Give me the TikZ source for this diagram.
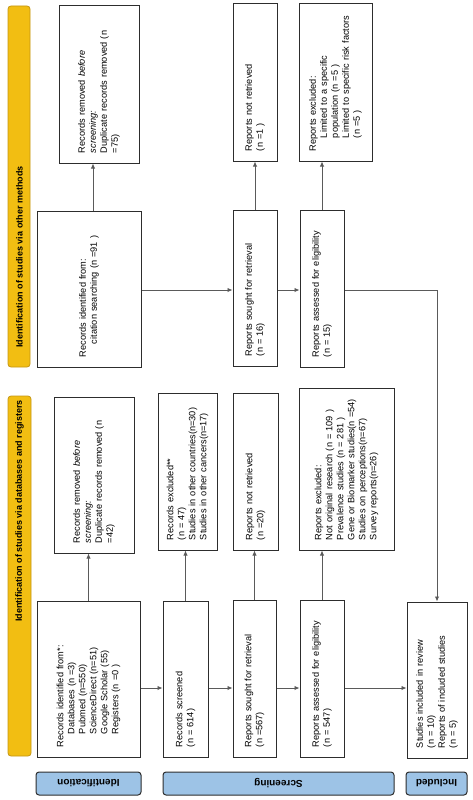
\documentclass[tikz,border=0pt]{standalone}
\usepackage{fontspec}
\setmainfont{Liberation Sans}
\usetikzlibrary{arrows.meta}
\definecolor{ybar}{RGB}{242,190,18}
\definecolor{ybord}{RGB}{196,150,20}
\definecolor{bbar}{RGB}{157,195,230}
\definecolor{bord}{RGB}{45,45,45}
\definecolor{conn}{RGB}{90,90,90}
\newcommand{\ind}{\hspace*{13pt}}
\begin{document}
\begin{tikzpicture}[x=1pt,y=-1pt,
  fbox/.style n args={3}{draw=bord, line width=1pt, rotate=90, align=left,
    inner xsep=10pt, inner ysep=0pt, minimum width=#1, minimum height=#2,
    text width=#3, font=\fontsize{9.2}{11}\selectfont},
  ybox/.style n args={2}{draw=ybord, fill=ybar, line width=0.8pt, rotate=90,
    rounded corners=3pt, minimum width=#1, minimum height=#2, inner sep=0pt},
  ylbl/.style={rotate=90, inner sep=0pt, font=\fontsize{9}{11}\selectfont\bfseries},
  bbox/.style={draw=bord, fill=bbar, line width=1pt, rotate=180,
    rounded corners=3pt, minimum width=#1, minimum height=23pt, inner sep=0pt,
    font=\fontsize{10}{12}\selectfont\bfseries},
  arr/.style={draw=conn, line width=0.9pt, -{Latex[length=5pt,width=4.5pt]}},
]
\useasboundingbox (0,0) rectangle (473,800);

% yellow side bars
\node[ybox={361}{22}] (om_bar) at (19,186.5) {};
\node[ylbl] (om_lbl) at (19.5,257) {Identification of studies via other methods};
\node[ybox={360}{23}] (db_bar) at (19.5,576) {};
\node[ylbl] (db_lbl) at (19.5,511) {Identification of studies via databases and registers};

% other methods
\node[fbox={157}{80}{137}] (om_rem) at (99,84.5)
  {Records removed \textit{before}\\ \textit{screening:}\\ Duplicate records removed (n\\ =75)};
\node[fbox={157}{44}{137}] (om_notret) at (255,82.5)
  {Reports not retrieved\\ (n =1 )};
\node[fbox={157}{73}{137}] (om_excl) at (335.5,82.5)
  {Reports excluded:\\ \ind Limited to a specific\\ \ind population (n =5 )\\ \ind Limited to specific risk factors\\ \ind (n =5 )};
\node[fbox={156}{104}{136}] (om_id) at (89,289)
  {Records identified from:\\ \ind citation searching (n =91 )};
\node[fbox={156}{44}{136}] (om_sought) at (255,288)
  {Reports sought for retrieval\\ (n = 16)};
\node[fbox={157}{44}{137}] (om_assess) at (322,288.5)
  {Reports assessed for eligibility\\ (n = 15)};

% databases and registers
\node[fbox={156}{80}{136}] (db_rem) at (94,475)
  {Records removed \textit{before}\\ \textit{screening:}\\ Duplicate records removed (n\\ =42)};
\node[fbox={157}{59}{137}] (db_exc) at (187.5,471.5)
  {Records excluded**\\ (n = 47)\\ Studies in other countries(n=30)\\ Studies in other cancers(n=17)};
\node[fbox={157}{45}{137}] (db_notret) at (255.5,471.5)
  {Reports not retrieved\\ (n =20)};
\node[fbox={162}{95}{142}] (db_excl) at (346.5,469)
  {Reports excluded:\\ Not original research (n = 109 )\\ Prevalence studies (n = 281 )\\ Gene or Biomarker studies(n =54)\\ Studies on perceptions(n=67)\\ Survey reports(n=26)};
\node[fbox={156}{103}{136}] (db_id) at (88.5,679)
  {Records identified from*:\\ \ind Databases (n =3)\\ \ind Pubmed (n=550)\\ \ind ScienceDirect (n=51)\\ \ind Google Scholar (55)\\ \ind Registers (n =0 )};
\node[fbox={156}{45}{136}] (db_scr) at (185.5,679)
  {Records screened\\ (n = 614)};
\node[fbox={157}{43}{137}] (db_sought) at (254.5,678.5)
  {Reports sought for retrieval\\ (n =567)};
\node[fbox={157}{44}{137}] (db_assess) at (322,678.5)
  {Reports assessed for eligibility\\ (n = 547)};
\node[fbox={156}{60}{136}] (incl) at (437,680)
  {Studies included in review\\ (n = 10)\\ Reports of included studies\\ (n = 5)};

% phase labels
\node[bbox=105] (ph_id) at (88.5,783.5) {Identification};
\node[bbox=231] (ph_scr) at (278.5,783.5) {Screening};
\node[bbox=61] (ph_inc) at (436.5,783.5) {Included};

% connectors
\coordinate (omrow) at (0,290);
\coordinate (dbrow) at (0,688);
\coordinate (omv) at (93,0);
\draw[arr] (om_id.south |- omrow) -- (om_sought.north |- omrow);
\draw[arr] (om_sought.south |- omrow) -- (om_assess.north |- omrow);
\draw[arr] (om_assess.south |- omrow) -- (incl.east |- omrow) -- (incl.east);
\draw[arr] (omv |- om_id.east) -- (omv |- om_rem.west);
\draw[arr] (om_sought.east) -- (om_sought.east |- om_notret.west);
\draw[arr] (om_assess.east) -- (om_assess.east |- om_excl.west);

\draw[arr] (db_id.south |- dbrow) -- (db_scr.north |- dbrow);
\draw[arr] (db_scr.south |- dbrow) -- (db_sought.north |- dbrow);
\draw[arr] (db_sought.south |- dbrow) -- (db_assess.north |- dbrow);
\draw[arr] (db_assess.south |- dbrow) -- (incl.north |- dbrow);
\draw[arr] (db_id.east) -- (db_id.east |- db_rem.west);
\draw[arr] (db_scr.east) -- (db_scr.east |- db_exc.west);
\draw[arr] (db_sought.east) -- (db_sought.east |- db_notret.west);
\draw[arr] (db_assess.east) -- (db_assess.east |- db_excl.west);
\end{tikzpicture}
\end{document}
